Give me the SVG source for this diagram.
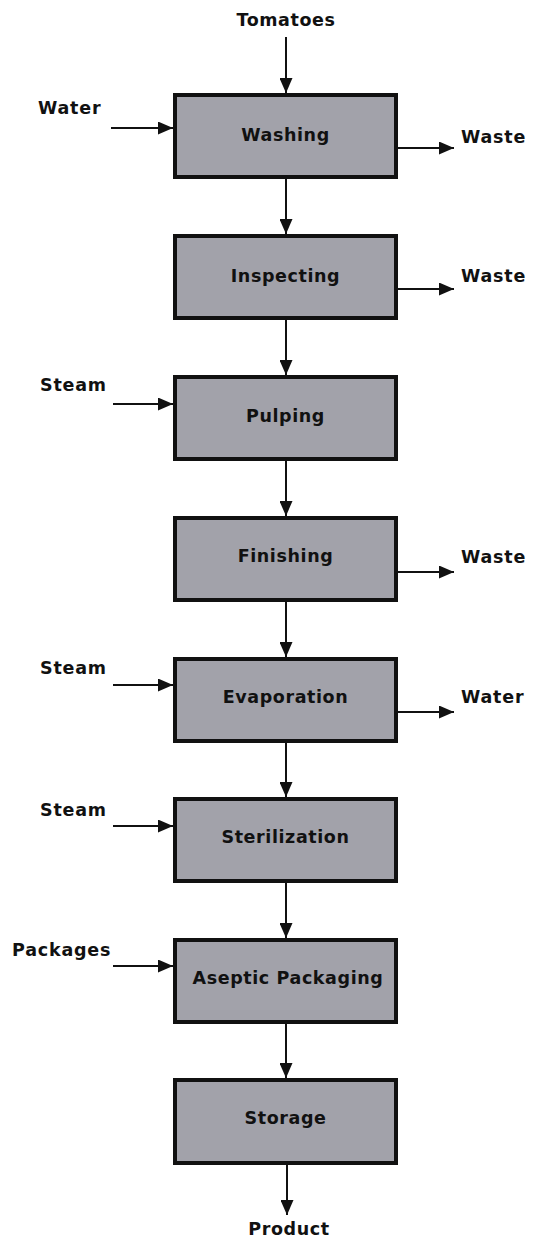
<svg xmlns="http://www.w3.org/2000/svg" width="537" height="1243" viewBox="0 0 537 1243">
  <style>
    .box { fill: #a2a2aa; stroke: #111; stroke-width: 4; }
    .lbl { font-family: "DejaVu Sans", "Liberation Sans", sans-serif; font-weight: bold; font-size: 17.5px; letter-spacing: 0.6px; fill: #111; text-anchor: middle; dominant-baseline: central; }
    .side { font-family: "DejaVu Sans", "Liberation Sans", sans-serif; font-weight: bold; font-size: 17.5px; letter-spacing: 0.8px; fill: #111; dominant-baseline: central; }
    .flow { stroke: #111; stroke-width: 2; fill: none; marker-end: url(#head); }
  </style>
  <defs>
    <marker id="head" markerUnits="userSpaceOnUse" markerWidth="15" markerHeight="13" refX="15" refY="6.5" orient="auto">
      <path d="M0,0 L15,6.5 L0,13 z" fill="#111"/>
    </marker>
  </defs>
  <rect width="537" height="1243" fill="#fff"/>

  <!-- process steps -->
  <g id="washing"><rect class="box" x="175" y="95" width="221" height="82"/><text class="lbl" x="285.5" y="135">Washing</text></g>
  <g id="inspecting"><rect class="box" x="175" y="236" width="221" height="82"/><text class="lbl" x="285.5" y="276">Inspecting</text></g>
  <g id="pulping"><rect class="box" x="175" y="377" width="221" height="82"/><text class="lbl" x="285.5" y="416">Pulping</text></g>
  <g id="finishing"><rect class="box" x="175" y="518" width="221" height="82"/><text class="lbl" x="285.5" y="556">Finishing</text></g>
  <g id="evaporation"><rect class="box" x="175" y="659" width="221" height="82"/><text class="lbl" x="285.5" y="697">Evaporation</text></g>
  <g id="sterilization"><rect class="box" x="175" y="799" width="221" height="82"/><text class="lbl" x="285.5" y="837">Sterilization</text></g>
  <g id="aseptic-packaging"><rect class="box" x="175" y="940" width="221" height="82"/><text class="lbl" x="288" y="978">Aseptic Packaging</text></g>
  <g id="storage"><rect class="box" x="175" y="1080" width="221" height="83"/><text class="lbl" x="285.5" y="1118">Storage</text></g>

  <!-- stream labels -->
  <g id="stream-labels">
    <text class="lbl" x="286" y="20">Tomatoes</text>
    <text class="side" x="38" y="108">Water</text>
    <text class="side" x="461" y="137">Waste</text>
    <text class="side" x="461" y="276">Waste</text>
    <text class="side" x="40" y="385">Steam</text>
    <text class="side" x="461" y="557">Waste</text>
    <text class="side" x="40" y="668">Steam</text>
    <text class="side" x="461" y="697">Water</text>
    <text class="side" x="40" y="810">Steam</text>
    <text class="side" x="12" y="950">Packages</text>
    <text class="lbl" x="289" y="1229">Product</text>
  </g>

  <!-- connectors -->
  <g id="connectors">
    <line class="flow" x1="286" y1="37" x2="286" y2="93"/>
    <line class="flow" x1="286" y1="179" x2="286" y2="234"/>
    <line class="flow" x1="286" y1="320" x2="286" y2="375"/>
    <line class="flow" x1="286" y1="461" x2="286" y2="516"/>
    <line class="flow" x1="286" y1="602" x2="286" y2="657"/>
    <line class="flow" x1="286" y1="743" x2="286" y2="797"/>
    <line class="flow" x1="286" y1="883" x2="286" y2="938"/>
    <line class="flow" x1="286" y1="1024" x2="286" y2="1078"/>
    <line class="flow" x1="287" y1="1165" x2="287" y2="1215"/>

    <line class="flow" x1="111" y1="128" x2="173" y2="128"/>
    <line class="flow" x1="113" y1="404" x2="173" y2="404"/>
    <line class="flow" x1="113" y1="685" x2="173" y2="685"/>
    <line class="flow" x1="113" y1="826" x2="173" y2="826"/>
    <line class="flow" x1="113" y1="966" x2="173" y2="966"/>

    <line class="flow" x1="398" y1="148" x2="454" y2="148"/>
    <line class="flow" x1="398" y1="289" x2="454" y2="289"/>
    <line class="flow" x1="398" y1="572" x2="454" y2="572"/>
    <line class="flow" x1="398" y1="712" x2="454" y2="712"/>
  </g>
</svg>
